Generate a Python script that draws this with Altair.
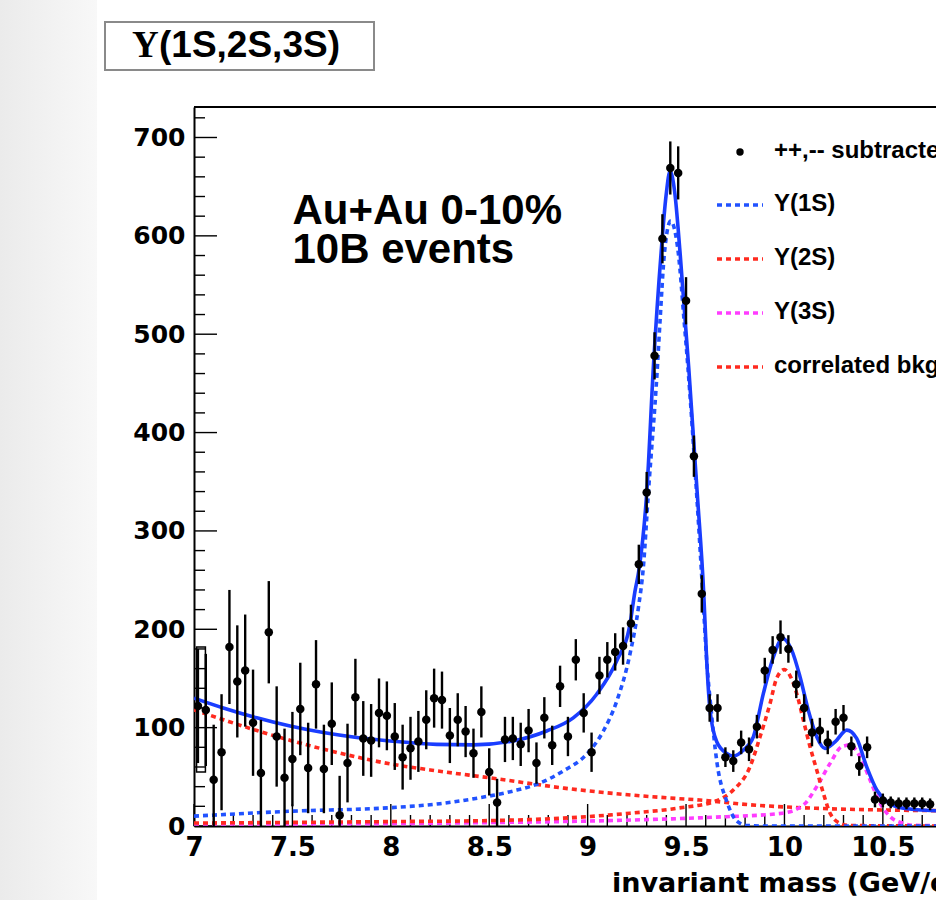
import altair as alt
import pandas as pd

# ---------------------------------------------------------------
# Like-sign subtracted dielectron/dimuon invariant-mass spectrum
# (40 MeV bins) with the Upsilon(1S,2S,3S) fit and its components
# ---------------------------------------------------------------
mass = [7.02, 7.06, 7.10, 7.14, 7.18, 7.22, 7.26, 7.30, 7.34, 7.38,
        7.42, 7.46, 7.50, 7.54, 7.58, 7.62, 7.66, 7.70, 7.74, 7.78,
        7.82, 7.86, 7.90, 7.94, 7.98, 8.02, 8.06, 8.10, 8.14, 8.18,
        8.22, 8.26, 8.30, 8.34, 8.38, 8.42, 8.46, 8.50, 8.54, 8.58,
        8.62, 8.66, 8.70, 8.74, 8.78, 8.82, 8.86, 8.90, 8.94, 8.98,
        9.02, 9.06, 9.10, 9.14, 9.18, 9.22, 9.26, 9.30, 9.34, 9.38,
        9.42, 9.46, 9.50, 9.54, 9.58, 9.62, 9.66, 9.70, 9.74, 9.78,
        9.82, 9.86, 9.90, 9.94, 9.98, 10.02, 10.06, 10.10, 10.14, 10.18,
        10.22, 10.26, 10.30, 10.34, 10.38, 10.42, 10.46, 10.50, 10.54, 10.58,
        10.62, 10.66, 10.70, 10.74]
counts = [122, 118, 47, 75, 182, 147, 158, 105, 54, 197,
          91, 49, 68, 119, 59, 144, 58, 104, 11, 64,
          131, 89, 87, 115, 112, 91, 70, 79, 86, 108,
          130, 128, 92, 108, 96, 74, 116, 55, 24, 88,
          89, 83, 97, 64, 110, 82, 142, 91, 169, 115,
          75, 153, 169, 177, 183, 206, 266, 339, 478, 597,
          669, 664, 534, 376, 236, 120, 120, 70, 66, 85,
          78, 101, 158, 179, 192, 180, 144, 120, 95, 97,
          85, 106, 110, 81, 61, 80, 27, 26, 24, 23,
          23, 23, 23, 22]
errors = [58, 57, 56, 59, 58, 57, 57, 54, 54, 52,
          51, 50, 48, 47, 46, 45, 45, 42, 40, 40,
          39, 38, 37, 35, 35, 34, 33, 32, 31, 30,
          30, 29, 28, 27, 26, 25, 26, 24, 24, 23,
          22, 22, 22, 21, 21, 20, 21, 20, 21, 20,
          20, 19, 18, 19, 19, 19, 20, 21, 24, 25,
          27, 27, 24, 21, 19, 14, 14, 10, 11, 12,
          12, 12, 13, 14, 17, 14, 14, 14, 14, 13,
          12, 13, 13, 10, 10, 11, 8, 7, 6, 6,
          6, 6, 6, 6]

# systematic box on the lowest-mass bin
sys_mass = [7.013, 7.058]
sys_range = [55, 182]

# total fit
fit_mass = [7.0, 7.149, 7.319, 7.488, 7.657, 7.827, 7.996, 8.233, 8.419, 8.622,
            8.792, 8.927, 9.046, 9.148, 9.215, 9.24, 9.262, 9.30, 9.335, 9.373,
            9.398, 9.419, 9.442, 9.47, 9.514, 9.557, 9.59, 9.605, 9.622, 9.656,
            9.707, 9.74, 9.791, 9.842, 9.893, 9.944, 9.991, 10.037, 10.079, 10.121,
            10.164, 10.206, 10.257, 10.317, 10.367, 10.418, 10.469, 10.52, 10.604, 10.77]
fit_val = [130, 120, 110, 101.6, 95, 90, 86.5, 83, 82.5, 86.5,
           96.6, 110, 134, 168, 205, 238, 262, 338, 470, 582,
           640, 666, 645, 582, 465, 338, 236, 168, 117.5, 85.6,
           73.7, 71, 77, 90.7, 134.8, 172, 190.7, 178.8, 151.7, 117.8,
           90.7, 78.9, 85.6, 97.5, 89, 60, 36.6, 24.7, 18, 15.5]

# Upsilon(1S) component
u1_mass = [7.0, 7.488, 7.996, 8.25, 8.453, 8.622, 8.741, 8.877, 8.995, 9.08,
           9.148, 9.215, 9.258, 9.283, 9.308, 9.354, 9.368, 9.39, 9.422, 9.461,
           9.49, 9.51, 9.554, 9.585, 9.605, 9.628, 9.656, 9.707, 9.758, 9.81,
           9.9, 10.77]
u1_val = [10, 15, 18.6, 22.7, 28.8, 35.6, 42.4, 56, 73, 96.6,
          127, 174.7, 222, 263, 337, 465, 514, 582, 615, 582,
          514, 465, 337, 236, 168, 117, 66, 25, 5, 0.5,
          0, 0]

# Upsilon(2S) component
u2_mass = [7.0, 8.0, 8.5, 8.877, 9.215, 9.453, 9.656, 9.74, 9.825, 9.876,
           9.927, 9.96, 10.0, 10.028, 10.062, 10.096, 10.13, 10.164, 10.198, 10.232,
           10.283, 10.33, 10.77]
u2_val = [3, 4.5, 5.5, 8, 13, 18, 25.7, 36.6, 60.2, 90.7,
          124.6, 150, 159, 153, 134.8, 107.7, 80.6, 56.9, 33.2, 12.9,
          2.7, 0.5, 0]

# Upsilon(3S) component
u3_mass = [7.0, 8.0, 8.5, 9.0, 9.3, 9.65, 9.99, 10.096, 10.164, 10.232,
           10.291, 10.333, 10.384, 10.435, 10.486, 10.537, 10.604, 10.65, 10.77]
u3_val = [2, 2.5, 3.5, 5, 6.5, 9, 13, 21.3, 40, 63.7,
          80.6, 82.3, 70.5, 46.8, 23, 9.5, 2.7, 0.8, 0.3]

# correlated background
bkg_mass = [7.0, 7.15, 7.32, 7.49, 7.66, 7.83, 8.0, 8.2, 8.54, 8.88,
            9.22, 9.45, 9.57, 9.83, 10.16, 10.5, 10.77]
bkg_val = [118, 108, 97, 87, 78, 70, 63, 57, 48, 38.5,
           31.5, 28, 26.4, 21.5, 18, 16.3, 15.6]

x_labels = [7, 7.5, 8, 8.5, 9, 9.5, 10, 10.5]
y_labels = [0, 100, 200, 300, 400, 500, 600, 700]

legend_labels = ["++,-- subtracted", "\u03a5(1S)", "\u03a5(2S)", "\u03a5(3S)", "correlated bkg"]
legend_colors = ["black", "#2152ff", "#ff2a1f", "#ff3cff", "#ff2a1f"]

annotation = ["Au+Au 0-10%", "10B events"]

# ---------------------------------------------------------------
W, H = 742, 719
XMIN, XMAX = 7.0, 10.77
YMIN, YMAX = 0, 731
BLUE = "#1a3dff"
SANS = "Liberation Sans"
AXF = "DejaVu Sans"

xs = alt.Scale(domain=[XMIN, XMAX], nice=False, zero=False)
ys = alt.Scale(domain=[YMIN, YMAX], nice=False, zero=False)

# one shared axis definition per channel, used by every layer
AX = alt.Axis(values=x_labels, format="~g", title=None, ticks=False, grid=False,
              domainColor="black", domainWidth=2,
              labelFont=AXF, labelFontWeight="bold", labelFontSize=26, labelColor="black",
              labelPadding=8, labelFlush=False, labelOverlap=False)
AY = alt.Axis(values=y_labels, format="d", title=None, ticks=False, grid=False,
              domainColor="black", domainWidth=2,
              labelFont=AXF, labelFontWeight="bold", labelFontSize=25, labelColor="black",
              labelPadding=9, labelFlush=False, labelOverlap=False)


def X(field):
    return alt.X(field, scale=xs, axis=AX)


def Y(field):
    return alt.Y(field, scale=ys, axis=AY)


one = pd.DataFrame({"k": [0]})

pts = pd.DataFrame({
    "m": mass,
    "n": counts,
    "lo": [c - e for c, e in zip(counts, errors)],
    "hi": [c + e for c, e in zip(counts, errors)],
})


def curve(ms, vs, color, dashed):
    df = pd.DataFrame({"m": ms, "v": vs})
    kw = dict(color=color, strokeWidth=3.6, clip=True, interpolate="monotone")
    if dashed:
        kw["strokeDash"] = [5, 4]
    return alt.Chart(df).mark_line(**kw).encode(x=X("m:Q"), y=Y("v:Q"))


# light grey margin strip on the far left of the page
strip = alt.Chart(one).mark_rect(
    fill=alt.Gradient(
        gradient="linear",
        stops=[alt.GradientStop(color="#ebebeb", offset=0),
               alt.GradientStop(color="#f8f8f8", offset=1)],
        x1=0, x2=1, y1=0, y2=0,
    )
).encode(x=alt.value(-194), x2=alt.value(-97), y=alt.value(-107), y2=alt.value(H + 74))

top_line = alt.Chart(one).mark_rule(color="black", strokeWidth=2).encode(
    x=alt.value(0), x2=alt.value(W), y=alt.value(0))

# inward ticks
ymaj = pd.DataFrame({"v": y_labels})
ymin_t = pd.DataFrame({"v": [v for v in range(0, 731, 20) if v % 100]})
xmaj = pd.DataFrame({"v": x_labels})
xmin_t = pd.DataFrame({"v": [round(7 + 0.1 * i, 2) for i in range(38) if i % 5]})

ytick_major = alt.Chart(ymaj).mark_rule(color="black", strokeWidth=1.4).encode(
    x=alt.value(0), x2=alt.value(23), y=Y("v:Q"))
ytick_minor = alt.Chart(ymin_t).mark_rule(color="black", strokeWidth=1.4).encode(
    x=alt.value(0), x2=alt.value(11), y=Y("v:Q"))
xtick_major = alt.Chart(xmaj).mark_rule(color="black", strokeWidth=1.4).encode(
    x=X("v:Q"), y=alt.value(H), y2=alt.value(H - 22))
xtick_minor = alt.Chart(xmin_t).mark_rule(color="black", strokeWidth=1.4).encode(
    x=X("v:Q"), y=alt.value(H), y2=alt.value(H - 11))

# systematic box
sys_df = pd.DataFrame({"m0": [sys_mass[0]], "m1": [sys_mass[1]],
                       "v0": [sys_range[0]], "v1": [sys_range[1]]})
sys_box = alt.Chart(sys_df).mark_rect(fillOpacity=0, stroke="black", strokeWidth=1.5).encode(
    x=X("m0:Q"), x2="m1:Q", y=Y("v0:Q"), y2="v1:Q")

# data with statistical errors
ebars = alt.Chart(pts).mark_rule(color="black", strokeWidth=2.4, clip=True).encode(
    x=X("m:Q"), y=Y("lo:Q"), y2="hi:Q")
dots = alt.Chart(pts).mark_circle(color="black", size=72, opacity=1, clip=True).encode(
    x=X("m:Q"), y=Y("n:Q"))

# collision system label (data coordinates)
ann = pd.DataFrame({"t": annotation, "m": [7.5, 7.5], "v": [612, 572]})
ann_text = alt.Chart(ann).mark_text(
    font=SANS, fontWeight="bold", fontSize=42, align="left", baseline="alphabetic",
    color="black").encode(x=X("m:Q"), y=Y("v:Q"), text="t:N")

# legend
leg_x0, leg_x1, leg_tx = 523, 569, 580
leg_rows = [45, 98, 152, 206, 260]
legend_layers = [
    alt.Chart(one).mark_circle(color="black", size=55, opacity=1).encode(
        x=alt.value(546), y=alt.value(leg_rows[0]))
]
for i in range(1, 5):
    legend_layers.append(
        alt.Chart(one).mark_rule(color=legend_colors[i], strokeWidth=3.6, strokeDash=[5, 4]).encode(
            x=alt.value(leg_x0), x2=alt.value(leg_x1), y=alt.value(leg_rows[i])))
for i in range(5):
    legend_layers.append(
        alt.Chart(one).mark_text(font=SANS, fontWeight="bold", fontSize=24, align="left",
                                 baseline="middle", color="black", text=legend_labels[i]).encode(
            x=alt.value(leg_tx), y=alt.value(leg_rows[i] - 1)))

# histogram title box
title_box = alt.Chart(one).mark_rect(fill="white", stroke="#8a8a8a", strokeWidth=2).encode(
    x=alt.value(-89), x2=alt.value(180), y=alt.value(-85), y2=alt.value(-37))
title_u = alt.Chart(one).mark_text(font="Liberation Serif", fontWeight="bold", fontSize=37,
                                   align="left", baseline="alphabetic", color="black",
                                   text="\u03a5").encode(x=alt.value(-62), y=alt.value(-50))
title_rest = alt.Chart(one).mark_text(font=SANS, fontWeight="bold", fontSize=37,
                                      align="left", baseline="alphabetic", color="black",
                                      text="(1S,2S,3S)").encode(x=alt.value(-35), y=alt.value(-50))

# x-axis title, right-aligned in the frame
x_title = alt.Chart(one).mark_text(font=AXF, fontWeight="bold", fontSize=27, align="left",
                                   baseline="alphabetic", color="black",
                                   text="invariant mass (GeV/c\u00b2)").encode(
    x=alt.value(418), y=alt.value(H + 66))

layers = [
    strip, top_line,
    ytick_major, ytick_minor, xtick_major, xtick_minor,
    curve(bkg_mass, bkg_val, "#ff2a1f", True),
    curve(u3_mass, u3_val, "#ff3cff", True),
    curve(u2_mass, u2_val, "#ff2a1f", True),
    curve(u1_mass, u1_val, "#2152ff", True),
    curve(fit_mass, fit_val, BLUE, False),
    sys_box, ebars, dots, ann_text,
    *legend_layers,
    title_box, title_u, title_rest, x_title,
]

chart = alt.layer(*layers).properties(
    width=W, height=H,
    autosize=alt.AutoSizeParams(type="none"),
    padding={"left": 194, "top": 107, "right": 0, "bottom": 74},
    background="white",
).configure_view(strokeWidth=0)

chart.save("out.html", embed_options={"renderer": "svg", "actions": False})
